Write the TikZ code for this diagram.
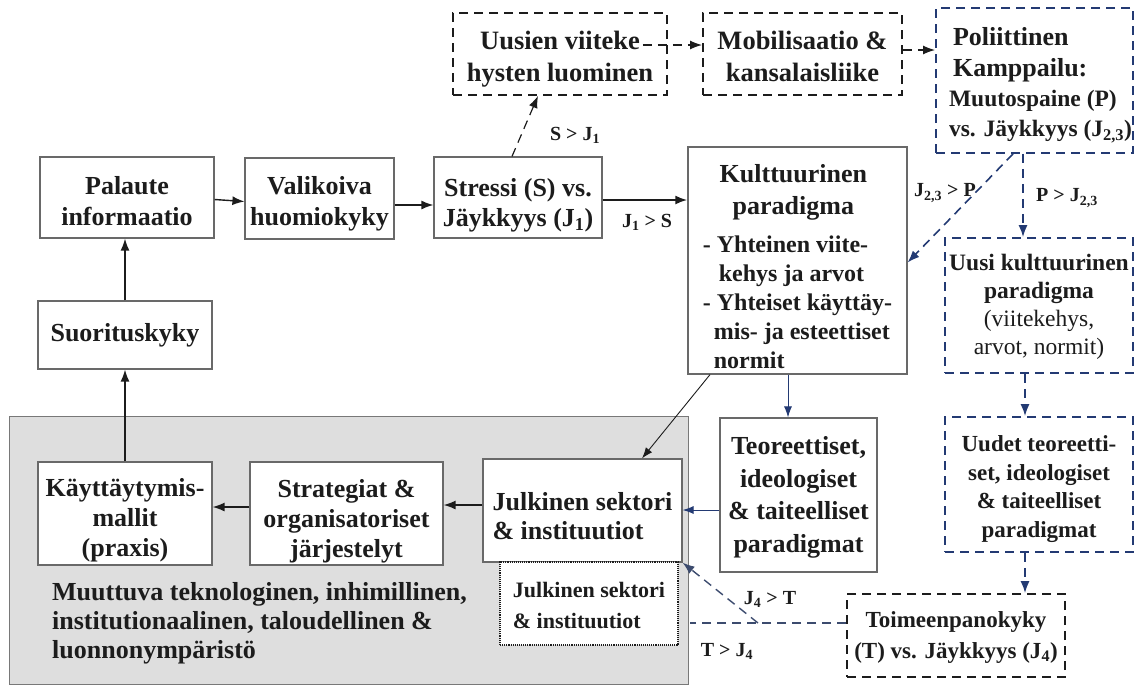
\documentclass[tikz,border=0pt]{standalone}
\usepackage{fontspec}
\setmainfont{Liberation Serif}
\usetikzlibrary{arrows.meta}
\definecolor{navy}{RGB}{35,58,115}
\definecolor{slateblue}{RGB}{60,75,110}
\definecolor{boxgray}{RGB}{105,105,105}
\definecolor{envgray}{RGB}{222,222,222}
\definecolor{envline}{RGB}{120,120,120}
\definecolor{ink}{RGB}{28,28,28}
\newcommand\fs[2]{\fontsize{#1}{#2}\selectfont}
\newcommand\tpad[1]{\rule{0pt}{#1pt}}
\newcommand\sbs[1]{\textsubscript{#1}}
\begin{document}
\begin{tikzpicture}[x=1pt,y=-1pt,
  every node/.style={text=ink},
  box/.style={draw=boxgray, line width=1.2pt, fill=white, inner sep=0pt, align=center, font=\bfseries\fs{26}{31}},
  dbox/.style={box, draw=ink, line width=1.8pt, dash pattern=on 9pt off 6pt},
  bbox/.style={dbox, draw=navy},
  lbl/.style={font=\bfseries\fs{20}{22}, inner sep=0pt},
  arr/.style={-{Latex[length=12pt,width=9pt]}, line width=1.4pt, draw=ink},
  darr/.style={arr, dash pattern=on 9pt off 6pt},
  barr/.style={darr, draw=navy, line width=1.6pt},
  tarr/.style={-{Latex[length=11pt,width=8pt]}, line width=0.9pt},
]
\useasboundingbox (0,0) rectangle (1139,686);

% environment region
\node[draw=envline, fill=envgray, line width=1pt, inner sep=0pt, minimum width=679pt, minimum height=268pt, anchor=north west] (env) at (9,416) {};
\node[anchor=north west, align=left, inner sep=0pt, font=\bfseries\fs{26}{29}] (envtxt) at (52,582)
  {Muuttuva teknologinen, inhimillinen,\\institutionaalinen, taloudellinen \&\\luonnonympäristö};

% top row
\node[box, minimum width=174pt, minimum height=81pt] (palaute) at (127,197.5)
  {\tpad{25}Palaute\\informaatio};
\node[box, minimum width=149pt, minimum height=81pt] (valikoiva) at (319.5,198.5)
  {\tpad{28}Valikoiva\\huomiokyky};
\node[box, minimum width=168pt, minimum height=81pt, font=\bfseries\fs{26}{30}] (stressi) at (518,197.5)
  {\tpad{34}Stressi (S) vs.\\Jäykkyys (J\sbs{1})};
\node[dbox, minimum width=214pt, minimum height=82pt, font=\bfseries\fs{26.5}{32}] (uusien) at (560,54)
  {\tpad{29}Uusien viiteke\\hysten luominen};
\node[dbox, minimum width=199pt, minimum height=82pt, font=\bfseries\fs{26.5}{32}] (mobil) at (802.5,54)
  {\tpad{24}Mobilisaatio \&\\kansalaisliike};
\node[bbox, minimum width=197pt, minimum height=145pt, align=left, font=\bfseries\fs{23.5}{30}] (polit) at (1034.5,80.5)
  {\tpad{28}\hspace*{16pt}{\fs{26}{30}Poliittinen}\\[1pt]
   \hspace*{16pt}{\fs{26}{30}Kamppailu:}\\
   \hspace*{12pt}Muutospaine (P)\\
   \hspace*{12pt}vs. Jäykkyys (J\sbs{2,3})};

% cultural paradigm
\node[box, minimum width=219pt, minimum height=227pt, align=left, font=\bfseries\fs{24}{29}] (kult) at (797.5,260.5)
  {\tpad{31}\makebox[181pt]{\fs{26}{29}Kulttuurinen}\\[3pt]
   \makebox[181pt]{\fs{26}{29}paradigma}\\[9pt]
   - Yhteinen viite-\\
   \hspace*{16pt}kehys ja arvot\\
   - Yhteiset käyttäy-\\
   \hspace*{11pt}mis- ja esteettiset\\
   \hspace*{11pt}normit};

% left column
\node[box, minimum width=174pt, minimum height=68pt] (suor) at (125,335) {Suorituskyky};
\node[box, minimum width=174pt, minimum height=103pt, font=\bfseries\fs{26}{30}] (kaytt) at (125,513.5)
  {\tpad{32}Käyttäytymis-\\mallit\\(praxis)};
\node[box, minimum width=193pt, minimum height=103pt, font=\bfseries\fs{26}{30}] (strat) at (346.5,513.5)
  {\tpad{33}Strategiat \&\\organisatoriset\\järjestelyt};
\node[box, minimum width=199pt, minimum height=103pt, align=left, font=\bfseries\fs{26}{29}] (julk) at (582.5,510.5)
  {\tpad{30}Julkinen sektori\\\& instituutiot};
\node[box, draw=ink, line width=1.1pt, densely dotted, minimum width=178pt, minimum height=83pt, align=left, font=\bfseries\fs{22}{31}] (julk2) at (589,603.5)
  {\tpad{20}Julkinen sektori\\\& instituutiot};
\node[box, minimum width=157pt, minimum height=154pt, font=\bfseries\fs{26}{32.5}] (teor) at (798.5,495)
  {\tpad{23}Teoreettiset,\\ideologiset\\\& taiteelliset\\paradigmat};

% right column
\node[bbox, minimum width=188pt, minimum height=135pt, font=\fs{23.5}{28}] (uusikult) at (1039,305.5)
  {\tpad{18}\textbf{Uusi kulttuurinen}\\\textbf{paradigma}\\(viitekehys,\\arvot, normit)};
\node[bbox, minimum width=188pt, minimum height=135pt, font=\bfseries\fs{23}{28.5}] (uudet) at (1039,484.5)
  {\tpad{25}Uudet teoreetti-\\set, ideologiset\\\& taiteelliset\\paradigmat};
\node[dbox, minimum width=218pt, minimum height=83pt, font=\bfseries\fs{23}{31}] (toim) at (956,635.5)
  {\tpad{19}Toimeenpanokyky\\(T) vs. Jäykkyys (J\sbs{4})};

% connectors, black
\draw[arr] (suor.north) -- (suor.north |- palaute.south);
\draw[arr] (kaytt.north) -- (suor.south);
\draw[arr] ([yshift=-2pt]palaute.east) -- ([yshift=-3pt]valikoiva.west);
\draw[arr] ([yshift=-6.5pt]valikoiva.east) -- ([yshift=-7.5pt]stressi.west);
\draw[arr, line width=2.2pt] ([yshift=-2.5pt]stressi.east) -- ([yshift=60.5pt]kult.west);
\draw[arr] ([yshift=6.5pt]strat.west) -- ([yshift=6.5pt]kaytt.east);
\draw[arr] ([yshift=5.5pt]julk.west) -- ([yshift=8.5pt]strat.east);
\draw[darr, line width=1.2pt] ([xshift=-6pt]stressi.north) -- ([xshift=-22pt]uusien.south);
\draw[darr] ([xshift=-25pt,yshift=9pt]uusien.east) -- ([yshift=9pt]mobil.west);
\draw[darr] ([yshift=4pt]mobil.east) -- ([yshift=30.5pt]polit.west);
\draw[tarr, draw=ink] ([xshift=-87.5pt]kult.south) -- ([xshift=59.5pt]julk.north);

% connectors, blue
\draw[barr] ([xshift=-21.5pt]polit.south) -- ([yshift=-2pt]kult.east);
\draw[barr] ([xshift=-11.5pt]polit.south) -- ([xshift=-16pt]uusikult.north);
\draw[barr] ([xshift=-14pt]uusikult.south) -- ([xshift=-14pt]uudet.north);
\draw[barr] ([xshift=-14pt]uudet.south) -- ([xshift=69pt]toim.north);
\draw[tarr, draw=navy] ([xshift=-9.5pt]kult.south) -- ([xshift=-10.5pt]teor.north);
\draw[tarr, draw=navy] ([yshift=-15pt]teor.west) -- ([yshift=0.5pt]julk.east);
\coordinate (tj) at (758,623);
\coordinate (tend) at (690,623);
\draw[slateblue, line width=1.4pt, dash pattern=on 9pt off 6pt] ([yshift=12.5pt]toim.west) -- (tend);
\draw[barr, draw=slateblue, line width=1.4pt] (tj) -- (julk.south east);

% labels
\node[lbl] (l1) at (575,135) {S > J\sbs{1}};
\node[lbl] (l2) at (647,222) {J\sbs{1} > S};
\node[lbl] (l3) at (945,193) {J\sbs{2,3} > P};
\node[lbl] (l4) at (1067,198) {P > J\sbs{2,3}};
\node[lbl] (l5) at (770,599) {J\sbs{4} > T};
\node[lbl] (l6) at (727,651) {T > J\sbs{4}};
\end{tikzpicture}
\end{document}
